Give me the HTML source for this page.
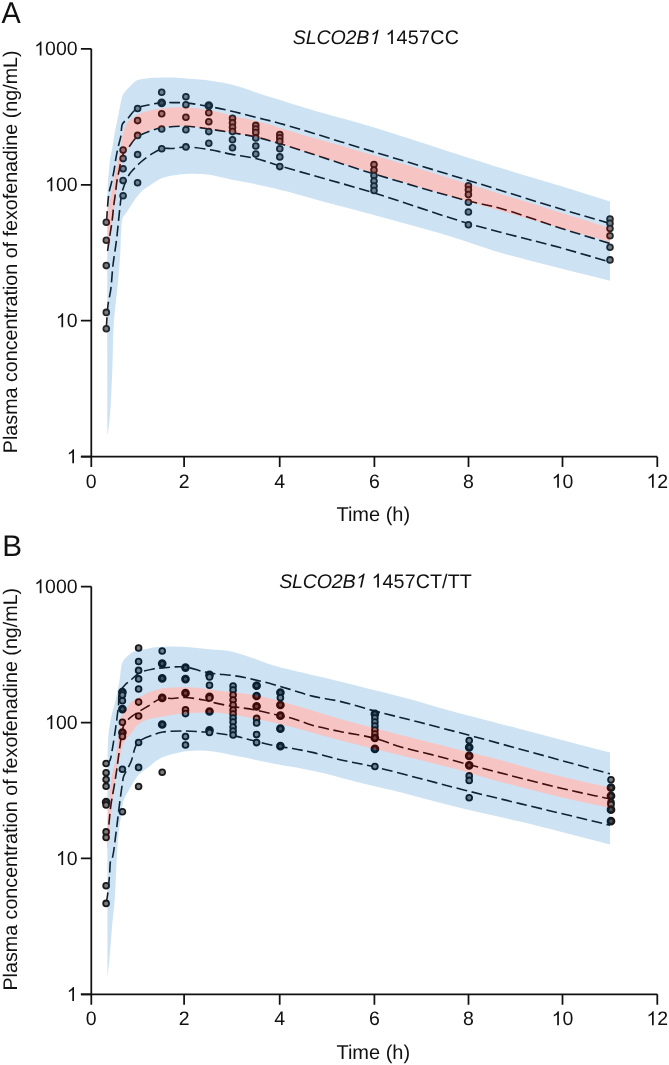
<!DOCTYPE html>
<html><head><meta charset="utf-8"><style>
html,body{margin:0;padding:0;background:#fff;width:669px;height:1065px;overflow:hidden}
svg{display:block;will-change:transform}
text{fill:#111;text-rendering:geometricPrecision}
.one{fill:transparent}
</style></head><body>
<svg width="669" height="1065" viewBox="0 0 669 1065" font-family="'Liberation Sans', sans-serif">
<path d="M107.40 434.00C107.37 416.00 107.32 399.76 107.30 380.00C107.28 355.95 107.30 325.78 107.30 300.00C107.30 275.89 107.25 249.65 107.30 230.00C107.34 215.72 107.32 201.85 107.50 193.00C107.60 188.04 107.65 185.24 107.90 181.40C108.15 177.60 108.63 173.86 109.00 170.10C109.37 166.36 109.54 162.63 110.10 158.90C110.67 155.13 111.73 151.38 112.40 147.60C113.06 143.84 113.45 140.05 114.10 136.30C114.75 132.55 115.55 128.84 116.30 125.10C117.05 121.34 117.85 117.57 118.60 113.80C119.35 110.03 120.05 105.81 120.80 102.50C121.39 99.88 121.72 97.52 122.60 95.50C123.36 93.76 124.39 92.42 125.50 91.00C126.64 89.54 128.12 88.23 129.40 86.90C130.62 85.63 131.74 84.30 133.00 83.20C134.21 82.15 135.23 81.12 136.80 80.40C138.80 79.48 141.25 79.14 144.30 78.70C148.93 78.04 156.07 77.73 162.00 77.60C167.97 77.46 173.85 77.60 180.00 77.90C186.50 78.21 193.20 78.75 200.00 79.50C207.12 80.29 214.64 81.21 221.80 82.60C228.90 83.98 235.86 85.73 242.80 87.80C249.82 89.89 256.71 92.83 263.70 95.10C270.64 97.36 278.17 99.43 284.60 101.40C290.13 103.09 294.53 104.53 300.00 106.20C306.23 108.10 312.18 109.94 320.00 112.20C331.03 115.39 347.65 119.69 360.00 123.30C370.74 126.44 376.88 128.38 390.00 132.50C415.18 140.40 468.81 158.12 500.00 167.80C522.97 174.93 540.93 179.95 560.00 185.80C577.44 191.15 593.33 196.27 610.00 201.50L610.00 280.80C573.33 271.37 529.42 261.07 500.00 252.50C479.98 246.67 469.34 242.03 450.00 236.20C423.69 228.27 380.18 216.67 356.20 210.20C341.33 206.19 331.49 203.82 320.00 200.70C309.52 197.86 298.83 194.63 290.00 192.30C283.08 190.48 277.63 189.15 271.40 187.70C265.16 186.25 259.09 184.91 252.60 183.60C245.68 182.20 238.26 181.06 231.10 179.60C223.90 178.13 216.49 175.77 209.50 174.80C203.05 173.90 196.96 173.57 190.70 173.70C184.43 173.83 177.41 174.54 171.90 175.60C167.44 176.46 163.74 177.33 160.00 179.00C156.24 180.69 152.61 183.58 149.40 185.70C146.66 187.51 144.07 188.95 141.90 190.90C139.88 192.72 138.31 194.79 136.70 196.90C135.08 199.02 133.75 201.24 132.20 203.60C130.49 206.21 128.59 209.41 126.90 211.90C125.48 214.00 123.77 215.11 122.80 217.60C121.41 221.18 121.52 226.63 121.10 232.00C120.57 238.76 120.67 247.18 120.20 255.00C119.71 263.16 119.06 270.46 118.20 280.00C117.05 292.82 114.68 309.98 113.70 325.00C112.72 339.98 112.92 355.00 112.30 370.00C111.68 385.00 110.98 403.20 110.00 415.00C109.36 422.69 108.53 427.67 107.80 434.00Z" fill="#cde2f2"/>
<path d="M107.40 251.00C107.43 244.67 107.39 238.16 107.50 232.00C107.60 226.18 107.67 220.17 108.00 215.00C108.28 210.65 108.53 206.82 109.20 203.00C109.83 199.41 111.09 196.23 111.80 192.70C112.54 189.04 112.84 185.16 113.50 181.40C114.17 177.62 114.95 173.85 115.80 170.10C116.65 166.35 117.77 162.65 118.60 158.90C119.43 155.15 120.15 151.37 120.80 147.60C121.45 143.84 121.66 140.03 122.50 136.30C123.35 132.53 124.44 127.92 125.90 125.10C126.93 123.11 128.15 121.83 129.50 120.50C130.80 119.21 132.32 118.26 133.80 117.20C135.31 116.12 136.41 115.07 138.50 114.10C141.89 112.53 148.21 110.89 152.80 109.90C156.94 109.00 160.23 108.61 164.80 108.20C170.84 107.66 178.70 107.12 185.90 107.40C193.49 107.69 201.63 108.72 209.20 110.10C216.56 111.44 223.24 113.76 230.70 115.50C238.73 117.37 248.63 119.22 255.80 120.90C261.22 122.17 265.71 123.21 270.00 124.50C273.65 125.60 274.84 126.35 280.00 128.00C296.96 133.44 353.37 149.13 390.00 160.10C426.71 171.09 468.85 184.29 500.00 193.90C523.01 201.00 540.91 206.58 560.00 212.50C577.43 217.90 593.33 222.83 610.00 228.00L610.00 242.10C573.33 231.63 536.64 221.37 500.00 210.70C463.30 200.01 426.63 189.15 390.00 178.00C353.30 166.82 296.98 149.07 280.00 143.70C274.87 142.08 273.64 141.53 270.00 140.50C265.70 139.28 261.22 138.15 255.80 137.00C248.64 135.48 238.75 133.88 230.70 132.50C223.26 131.23 216.52 130.02 209.20 129.00C201.60 127.94 193.49 126.67 185.90 126.30C178.70 125.95 170.82 126.05 164.80 126.70C160.21 127.20 156.65 127.98 152.80 129.10C149.06 130.19 144.58 131.80 142.00 133.30C140.35 134.26 139.60 135.20 138.30 136.30C136.79 137.57 135.02 138.81 133.50 140.50C131.73 142.47 130.11 145.05 128.50 147.60C126.74 150.38 124.74 153.19 123.40 156.60C121.85 160.55 121.20 165.80 120.20 170.10C119.28 174.03 118.28 177.62 117.60 181.40C116.92 185.15 116.62 188.85 116.10 192.70C115.56 196.71 114.98 200.63 114.40 205.00C113.74 209.98 113.15 215.76 112.40 221.00C111.68 226.09 110.77 231.00 110.00 236.00C109.23 241.00 108.53 246.00 107.80 251.00Z" fill="#f7c4c4"/>
<path style="mix-blend-mode:luminosity" d="M106.60 222.00C106.93 216.67 107.17 211.08 107.60 206.00C107.99 201.36 108.26 196.93 109.00 192.70C109.69 188.75 110.95 185.18 111.80 181.40C112.65 177.64 113.43 173.87 114.10 170.10C114.76 166.37 115.15 162.63 115.80 158.90C116.45 155.13 117.17 151.36 118.00 147.60C118.84 143.82 120.06 140.17 120.80 136.30C121.57 132.28 121.04 126.85 122.50 123.90C123.54 121.80 125.22 121.26 127.00 119.40C129.74 116.53 133.17 110.67 137.20 108.20C141.03 105.86 146.15 105.55 150.40 104.60C154.29 103.73 158.01 102.92 161.70 102.60C165.20 102.29 168.31 102.56 172.00 102.60C176.29 102.65 180.69 102.44 185.90 102.90C192.69 103.49 201.61 105.12 209.20 106.50C216.53 107.83 223.27 109.29 230.70 111.00C238.76 112.85 247.51 115.21 255.80 117.30C263.94 119.35 269.34 120.44 280.00 123.40C301.17 129.28 342.80 142.50 374.20 152.00C405.60 161.50 437.24 170.87 468.40 180.40C499.17 189.81 534.03 200.96 560.00 208.80C579.15 214.58 593.33 218.60 610.00 223.50" fill="none" stroke="#1e1e1e" stroke-width="1.6" stroke-dasharray="10.8 4.6"/>
<path style="mix-blend-mode:luminosity" d="M107.60 251.00C108.33 246.00 109.05 241.00 109.80 236.00C110.55 231.00 111.44 226.09 112.10 221.00C112.78 215.76 113.19 209.95 113.80 205.00C114.33 200.71 114.98 196.97 115.50 193.00C116.01 189.10 116.28 185.23 116.90 181.40C117.52 177.60 118.45 173.86 119.20 170.10C119.95 166.36 120.43 162.13 121.40 158.90C122.18 156.31 122.90 154.15 124.20 152.10C125.52 150.01 127.69 148.48 129.30 146.50C130.96 144.46 132.36 141.79 134.00 140.00C135.38 138.50 136.39 137.51 138.30 136.30C141.22 134.45 146.31 132.33 150.40 130.90C154.35 129.52 157.69 128.55 162.40 127.80C168.89 126.76 178.09 126.10 185.90 126.30C193.69 126.50 201.60 127.94 209.20 129.00C216.52 130.02 223.26 131.23 230.70 132.50C238.75 133.88 247.55 135.12 255.80 137.00C263.98 138.86 269.34 140.51 280.00 143.70C301.17 150.03 342.72 164.43 374.20 174.00C405.52 183.52 445.31 195.06 468.40 201.00C481.68 204.41 487.88 204.83 500.00 208.20C516.92 212.91 540.88 221.88 560.00 228.00C577.40 233.57 593.33 238.33 610.00 243.50" fill="none" stroke="#1e1e1e" stroke-width="1.6" stroke-dasharray="10.8 4.6"/>
<path style="mix-blend-mode:luminosity" d="M106.30 328.00C106.87 320.33 107.14 311.83 108.00 305.00C108.70 299.45 109.93 295.65 110.70 290.00C111.68 282.74 112.04 273.32 113.00 265.00C113.97 256.66 115.39 249.04 116.50 240.00C117.81 229.32 119.09 213.83 120.20 205.00C120.88 199.61 120.88 196.55 122.10 192.00C123.54 186.63 126.50 179.08 128.90 175.00C130.45 172.37 131.88 171.11 133.70 169.10C135.80 166.79 138.25 164.29 140.90 162.00C143.77 159.51 147.01 156.98 150.40 154.80C153.92 152.53 157.90 149.70 161.70 148.70C165.11 147.80 168.32 148.75 172.00 148.50C176.29 148.21 180.67 146.90 185.90 146.90C192.67 146.90 201.62 148.37 209.20 149.60C216.54 150.79 223.24 152.67 230.70 154.10C238.73 155.64 247.57 156.51 255.80 158.50C264.00 160.48 269.27 162.80 280.00 166.00C301.10 172.29 342.88 183.44 374.20 193.00C405.68 202.61 437.09 214.32 468.40 223.50C499.02 232.48 534.09 240.46 560.00 247.60C579.21 252.89 593.33 257.20 610.00 262.00" fill="none" stroke="#1e1e1e" stroke-width="1.6" stroke-dasharray="10.8 4.6"/>
<g style="mix-blend-mode:luminosity" stroke="#262626" stroke-width="1.8"><circle cx="106.3" cy="222.3" r="2.9" fill="#7c7c7c"/><circle cx="106.3" cy="240.2" r="2.9" fill="#7c7c7c"/><circle cx="106.3" cy="265.6" r="2.9" fill="#7c7c7c"/><circle cx="106.3" cy="312.4" r="2.9" fill="#7c7c7c"/><circle cx="106.3" cy="328.7" r="2.9" fill="#7c7c7c"/><circle cx="123.1" cy="150.1" r="2.9" fill="#7c7c7c"/><circle cx="123.1" cy="158.6" r="2.9" fill="#7c7c7c"/><circle cx="123.1" cy="168.7" r="2.9" fill="#7c7c7c"/><circle cx="123.1" cy="180.6" r="2.9" fill="#7c7c7c"/><circle cx="123.1" cy="195.8" r="2.9" fill="#7c7c7c"/><circle cx="137.6" cy="108.5" r="2.9" fill="#7c7c7c"/><circle cx="137.6" cy="120.6" r="2.9" fill="#7c7c7c"/><circle cx="137.6" cy="135.4" r="2.9" fill="#7c7c7c"/><circle cx="137.6" cy="154.5" r="2.9" fill="#7c7c7c"/><circle cx="137.6" cy="182.8" r="2.9" fill="#7c7c7c"/><circle cx="161.7" cy="92.2" r="2.9" fill="#7c7c7c"/><circle cx="161.7" cy="102.9" r="3.0" fill="#505050" stroke-width="2.7"/><circle cx="161.7" cy="113.7" r="2.9" fill="#7c7c7c"/><circle cx="161.7" cy="129" r="2.9" fill="#7c7c7c"/><circle cx="161.7" cy="148.7" r="2.9" fill="#7c7c7c"/><circle cx="185.9" cy="96.7" r="2.9" fill="#7c7c7c"/><circle cx="185.9" cy="104.7" r="2.9" fill="#7c7c7c"/><circle cx="185.9" cy="117.3" r="2.9" fill="#7c7c7c"/><circle cx="185.9" cy="129.8" r="2.9" fill="#7c7c7c"/><circle cx="185.9" cy="146.9" r="2.9" fill="#7c7c7c"/><circle cx="208.8" cy="105.6" r="3.0" fill="#505050" stroke-width="2.7"/><circle cx="208.8" cy="112.8" r="2.9" fill="#7c7c7c"/><circle cx="208.8" cy="121.8" r="2.9" fill="#7c7c7c"/><circle cx="208.8" cy="131.6" r="2.9" fill="#7c7c7c"/><circle cx="208.8" cy="143.3" r="2.9" fill="#7c7c7c"/><circle cx="232.5" cy="118.2" r="2.9" fill="#7c7c7c"/><circle cx="232.5" cy="122.7" r="2.9" fill="#7c7c7c"/><circle cx="232.5" cy="127.2" r="2.9" fill="#7c7c7c"/><circle cx="232.5" cy="131.6" r="2.9" fill="#7c7c7c"/><circle cx="232.5" cy="139.7" r="2.9" fill="#7c7c7c"/><circle cx="232.5" cy="147.8" r="2.9" fill="#7c7c7c"/><circle cx="255.8" cy="125.4" r="2.9" fill="#7c7c7c"/><circle cx="255.8" cy="129" r="2.9" fill="#7c7c7c"/><circle cx="255.8" cy="132.5" r="2.9" fill="#7c7c7c"/><circle cx="255.8" cy="137.9" r="2.9" fill="#7c7c7c"/><circle cx="255.8" cy="146" r="2.9" fill="#7c7c7c"/><circle cx="255.8" cy="154.1" r="2.9" fill="#7c7c7c"/><circle cx="279.8" cy="134.5" r="2.9" fill="#7c7c7c"/><circle cx="279.8" cy="137.8" r="2.9" fill="#7c7c7c"/><circle cx="279.8" cy="141.3" r="2.9" fill="#7c7c7c"/><circle cx="279.8" cy="148.8" r="2.9" fill="#7c7c7c"/><circle cx="279.8" cy="156.9" r="2.9" fill="#7c7c7c"/><circle cx="279.8" cy="166.6" r="2.9" fill="#7c7c7c"/><circle cx="374" cy="164.5" r="2.9" fill="#7c7c7c"/><circle cx="374" cy="170" r="2.9" fill="#7c7c7c"/><circle cx="374" cy="175.5" r="2.9" fill="#7c7c7c"/><circle cx="374" cy="181" r="2.9" fill="#7c7c7c"/><circle cx="374" cy="186" r="2.9" fill="#7c7c7c"/><circle cx="374" cy="190.5" r="2.9" fill="#7c7c7c"/><circle cx="468.4" cy="185.8" r="2.9" fill="#7c7c7c"/><circle cx="468.4" cy="189.7" r="2.9" fill="#7c7c7c"/><circle cx="468.4" cy="194.5" r="2.9" fill="#7c7c7c"/><circle cx="468.4" cy="202.3" r="2.9" fill="#7c7c7c"/><circle cx="468.4" cy="212" r="2.9" fill="#7c7c7c"/><circle cx="468.4" cy="224.7" r="2.9" fill="#7c7c7c"/><circle cx="610" cy="219" r="2.9" fill="#7c7c7c"/><circle cx="610" cy="223.2" r="2.9" fill="#7c7c7c"/><circle cx="610" cy="228.5" r="2.9" fill="#7c7c7c"/><circle cx="610" cy="235.8" r="2.9" fill="#7c7c7c"/><circle cx="610" cy="247.3" r="2.9" fill="#7c7c7c"/><circle cx="610" cy="259.9" r="2.9" fill="#7c7c7c"/></g>
<path d="M107.50 976.00C107.47 950.67 107.42 927.07 107.40 900.00C107.38 868.95 107.36 823.59 107.40 800.00C107.42 787.08 107.36 780.28 107.50 770.00C107.65 759.12 107.45 745.96 108.30 736.40C108.94 729.21 109.94 723.84 111.20 717.60C112.47 711.30 114.50 705.08 115.90 698.80C117.30 692.55 118.49 686.18 119.60 680.00C120.68 674.02 120.64 666.48 122.50 662.30C123.72 659.56 125.44 658.09 127.30 656.30C129.22 654.45 131.19 652.58 133.90 651.40C137.27 649.93 142.85 649.84 146.40 649.10C149.05 648.55 150.40 647.91 153.30 647.50C158.11 646.82 166.22 646.50 172.70 646.50C179.19 646.50 185.72 646.98 192.20 647.50C198.68 648.02 205.42 649.04 211.60 649.60C217.24 650.11 221.93 649.75 227.80 650.80C235.08 652.10 243.84 655.16 251.80 657.70C259.81 660.26 267.68 663.69 275.70 666.10C283.61 668.48 290.58 669.92 299.60 672.10C311.30 674.93 326.94 678.34 340.00 681.50C352.33 684.48 363.32 687.30 375.90 690.50C389.85 694.05 408.19 698.60 420.00 701.90C427.99 704.13 431.08 705.39 440.00 707.90C457.75 712.89 492.55 721.70 520.00 728.90C549.12 736.54 580.00 744.63 610.00 752.50L610.00 844.40C580.00 836.80 546.38 827.98 520.00 821.60C499.39 816.62 482.22 813.12 464.80 808.90C449.06 805.09 431.70 800.56 420.00 797.50C412.45 795.52 408.80 794.37 401.40 792.50C390.55 789.76 374.54 786.32 361.10 783.00C347.57 779.66 331.77 775.14 320.50 772.50C312.54 770.64 306.84 769.50 300.00 768.20C293.20 766.90 286.66 766.01 279.60 764.70C271.94 763.27 263.67 761.50 255.70 759.90C247.73 758.30 239.26 756.57 231.80 755.10C225.24 753.80 219.29 752.25 213.30 751.50C207.75 750.81 202.63 750.48 197.10 750.60C191.28 750.73 184.97 751.32 179.20 752.40C173.62 753.45 167.20 755.12 163.00 756.90C160.09 758.13 158.18 759.47 156.00 761.00C153.86 762.51 152.12 764.34 150.00 766.00C147.73 767.78 144.97 769.55 142.80 771.30C140.89 772.84 139.17 774.07 137.60 775.90C135.86 777.93 134.51 780.63 133.00 783.10C131.44 785.66 129.86 788.44 128.40 791.00C127.03 793.40 125.49 795.61 124.50 798.00C123.55 800.28 123.03 802.44 122.50 805.00C121.88 808.02 121.72 811.22 121.20 815.00C120.52 819.94 119.40 825.69 118.70 832.10C117.81 840.25 117.32 849.89 116.70 860.00C115.96 872.02 115.58 887.68 114.70 899.50C113.98 909.16 112.87 917.04 112.10 925.80C111.33 934.54 110.85 943.46 110.10 952.00C109.38 960.18 108.50 968.00 107.70 976.00Z" fill="#cde2f2"/>
<path d="M107.30 848.00C107.40 840.33 107.31 832.90 107.60 825.00C107.91 816.60 108.39 807.69 109.20 799.00C110.02 790.22 111.07 779.75 112.50 772.60C113.50 767.59 115.34 763.90 116.00 760.00C116.56 756.72 116.30 754.02 116.60 750.80C116.94 747.22 117.48 743.26 118.00 739.50C118.52 735.73 119.23 731.96 119.70 728.20C120.16 724.46 119.77 719.51 120.80 717.00C121.42 715.48 122.43 715.19 123.40 713.80C124.98 711.53 127.00 706.83 129.00 704.40C130.55 702.51 132.34 701.14 133.90 700.00C135.14 699.09 135.93 698.73 137.50 697.90C140.29 696.42 145.23 693.78 149.40 692.20C153.72 690.56 158.01 689.13 163.00 688.30C168.84 687.32 175.92 687.30 182.40 687.30C188.89 687.30 196.06 687.73 201.90 688.30C206.71 688.77 209.47 689.45 215.00 690.20C224.52 691.49 241.01 692.69 253.90 695.10C266.92 697.54 279.17 701.09 292.70 704.80C307.73 708.92 320.57 713.50 340.00 718.90C370.79 727.46 433.32 743.16 460.00 749.90C473.32 753.26 477.93 754.17 490.00 757.30C508.49 762.09 538.57 770.99 560.00 776.30C578.01 780.76 593.33 783.77 610.00 787.50L610.00 808.00C593.33 804.33 578.02 801.30 560.00 797.00C538.58 791.89 508.43 784.07 490.00 779.00C477.88 775.66 473.38 773.83 460.00 770.20C433.38 762.97 370.82 748.29 340.00 740.20C320.59 735.11 307.73 730.97 292.70 727.20C279.17 723.81 266.89 720.84 253.90 718.40C240.99 715.98 224.54 713.31 215.00 712.60C209.49 712.19 206.70 712.48 201.90 712.60C196.04 712.75 188.88 712.95 182.40 713.60C175.91 714.25 169.06 715.45 163.00 716.50C157.61 717.43 152.17 718.01 147.80 719.50C144.20 720.73 141.06 722.04 138.40 724.20C135.73 726.37 134.12 729.57 131.80 732.50C129.21 735.77 125.33 739.50 123.60 742.90C122.24 745.57 122.10 748.23 121.40 750.80C120.73 753.25 120.17 755.17 119.50 758.00C118.55 762.01 117.41 767.00 116.40 772.60C115.05 780.09 113.59 790.22 112.50 799.00C111.42 807.69 110.70 816.60 109.90 825.00C109.14 832.90 108.50 840.33 107.80 848.00Z" fill="#f7c4c4"/>
<path style="mix-blend-mode:luminosity" d="M106.30 765.00C107.03 764.17 107.84 763.37 108.50 762.50C109.14 761.66 109.71 761.10 110.20 759.90C111.06 757.79 111.47 753.96 112.10 750.50C112.87 746.28 113.65 741.32 114.40 736.40C115.22 731.03 116.10 724.92 116.80 719.50C117.45 714.49 118.02 709.69 118.50 705.00C118.95 700.60 118.26 695.70 119.60 692.20C120.72 689.27 123.03 687.09 125.00 685.00C126.82 683.06 128.73 681.81 130.90 680.00C133.53 677.81 136.23 674.62 139.70 672.80C143.57 670.77 149.12 669.71 153.30 668.90C156.77 668.23 159.13 668.19 163.00 667.90C168.74 667.47 177.49 666.20 184.40 666.90C191.08 667.57 198.20 670.62 203.80 671.80C208.02 672.69 210.75 673.12 215.00 673.70C220.57 674.46 227.95 674.72 234.40 675.70C240.92 676.69 247.42 678.15 253.90 679.60C260.39 681.05 266.85 682.64 273.30 684.40C279.79 686.17 286.23 688.25 292.70 690.20C299.19 692.15 305.07 694.35 312.20 696.10C320.60 698.16 330.25 699.12 340.00 701.40C351.05 703.98 362.73 707.86 375.00 711.10C388.51 714.66 402.47 717.89 417.70 721.80C435.27 726.31 451.46 730.55 474.40 736.70C509.92 746.23 564.80 761.43 610.00 773.80" fill="none" stroke="#1e1e1e" stroke-width="1.6" stroke-dasharray="10.8 4.6"/>
<path style="mix-blend-mode:luminosity" d="M107.50 840.00C108.60 828.60 109.57 815.01 110.80 805.80C111.64 799.51 112.68 794.83 113.50 790.00C114.19 785.92 114.83 782.30 115.40 778.70C115.92 775.43 116.31 772.75 116.80 769.30C117.40 765.08 118.07 759.90 118.70 755.20C119.33 750.50 119.94 745.52 120.60 741.10C121.18 737.17 121.68 733.12 122.40 730.00C122.93 727.67 123.31 725.66 124.20 724.00C124.96 722.59 125.91 721.70 127.10 720.50C128.63 718.96 130.96 717.10 132.80 715.70C134.41 714.48 135.61 713.71 137.50 712.50C140.25 710.74 144.14 708.47 147.80 706.30C151.94 703.84 156.65 699.71 161.10 698.50C164.96 697.45 168.83 698.67 172.70 698.50C176.60 698.33 180.02 697.41 184.40 697.50C190.06 697.62 198.24 698.93 203.80 700.00C208.07 700.83 210.74 701.92 215.00 702.90C220.57 704.18 227.91 705.67 234.40 706.80C240.88 707.93 247.01 708.40 253.90 709.70C261.79 711.19 271.98 713.92 279.10 715.50C284.32 716.66 287.81 717.03 292.70 718.40C298.66 720.07 305.06 723.15 312.20 725.20C320.59 727.60 330.18 729.43 340.00 731.50C350.98 733.81 364.40 735.50 375.00 738.30C384.12 740.71 390.86 744.02 400.00 746.70C410.83 749.87 424.24 752.66 435.90 755.70C447.02 758.60 458.67 761.90 468.40 764.50C476.33 766.62 480.74 767.80 490.00 770.20C506.66 774.52 538.59 782.92 560.00 788.00C578.03 792.27 593.33 795.33 610.00 799.00" fill="none" stroke="#1e1e1e" stroke-width="1.6" stroke-dasharray="10.8 4.6"/>
<path style="mix-blend-mode:luminosity" d="M106.20 903.00C106.63 900.50 107.07 898.60 107.50 895.50C108.19 890.50 108.93 882.01 109.50 875.80C110.01 870.25 109.80 862.48 110.80 860.00C111.16 859.10 111.68 859.35 112.10 858.40C113.61 854.99 114.90 840.88 116.10 832.10C117.30 823.34 118.19 814.33 119.30 805.80C120.36 797.69 121.78 787.23 122.60 782.10C123.00 779.62 122.86 778.80 123.60 776.60C124.85 772.88 128.55 767.52 130.80 762.30C133.37 756.33 133.81 747.21 137.90 742.60C141.61 738.42 148.69 736.73 153.30 734.90C156.84 733.50 159.09 732.67 163.00 732.00C168.69 731.03 177.44 730.98 184.40 731.00C191.03 731.02 198.22 731.61 203.80 732.00C208.05 732.30 210.77 732.49 215.00 733.00C220.59 733.67 227.96 734.61 234.40 735.90C240.92 737.20 246.98 739.13 253.90 740.80C261.75 742.69 271.96 745.28 279.10 746.60C284.30 747.56 287.77 747.66 292.70 748.50C298.63 749.51 305.15 750.77 312.20 752.40C320.67 754.36 330.20 757.39 340.00 759.70C350.85 762.25 362.24 764.06 374.50 766.90C388.65 770.18 404.90 774.60 420.00 778.50C435.00 782.37 449.07 786.24 464.80 790.20C482.22 794.59 499.36 798.62 520.00 803.60C546.35 809.96 580.00 818.00 610.00 825.20" fill="none" stroke="#1e1e1e" stroke-width="1.6" stroke-dasharray="10.8 4.6"/>
<g style="mix-blend-mode:luminosity" stroke="#1a1a1a" stroke-width="1.8"><circle cx="106.1" cy="763.5" r="2.9" fill="#7c7c7c"/><circle cx="106.1" cy="772.8" r="2.9" fill="#7c7c7c"/><circle cx="106.1" cy="779.5" r="2.9" fill="#7c7c7c"/><circle cx="106.1" cy="786.3" r="2.9" fill="#7c7c7c"/><circle cx="106.1" cy="802" r="3.0" fill="#505050" stroke-width="2.7"/><circle cx="106.1" cy="805" r="2.9" fill="#7c7c7c"/><circle cx="106.1" cy="831.9" r="2.9" fill="#7c7c7c"/><circle cx="106.1" cy="837.4" r="2.9" fill="#7c7c7c"/><circle cx="106.1" cy="885.7" r="2.9" fill="#7c7c7c"/><circle cx="106.1" cy="903.4" r="2.9" fill="#7c7c7c"/><circle cx="122.4" cy="692.2" r="3.0" fill="#505050" stroke-width="2.7"/><circle cx="122.4" cy="695" r="2.9" fill="#7c7c7c"/><circle cx="122.4" cy="700.7" r="2.9" fill="#7c7c7c"/><circle cx="122.4" cy="709.1" r="3.0" fill="#505050" stroke-width="2.7"/><circle cx="122.4" cy="722.3" r="2.9" fill="#7c7c7c"/><circle cx="122.4" cy="732.6" r="3.0" fill="#505050" stroke-width="2.7"/><circle cx="122.4" cy="736.4" r="2.9" fill="#7c7c7c"/><circle cx="122.4" cy="769.3" r="2.9" fill="#7c7c7c"/><circle cx="122.4" cy="811.7" r="2.9" fill="#7c7c7c"/><circle cx="138.6" cy="648" r="2.9" fill="#7c7c7c"/><circle cx="138.6" cy="661.5" r="2.9" fill="#7c7c7c"/><circle cx="138.6" cy="670.4" r="2.9" fill="#7c7c7c"/><circle cx="138.6" cy="678.9" r="2.9" fill="#7c7c7c"/><circle cx="138.6" cy="689" r="2.9" fill="#7c7c7c"/><circle cx="138.6" cy="702.1" r="2.9" fill="#7c7c7c"/><circle cx="138.6" cy="716" r="2.9" fill="#7c7c7c"/><circle cx="138.6" cy="742.5" r="2.9" fill="#7c7c7c"/><circle cx="138.6" cy="767.4" r="2.9" fill="#7c7c7c"/><circle cx="138.6" cy="786.5" r="2.9" fill="#7c7c7c"/><circle cx="162.2" cy="651" r="2.9" fill="#7c7c7c"/><circle cx="162.2" cy="663.6" r="3.0" fill="#505050" stroke-width="2.7"/><circle cx="162.2" cy="678.4" r="3.0" fill="#505050" stroke-width="2.7"/><circle cx="162.2" cy="697.9" r="3.0" fill="#505050" stroke-width="2.7"/><circle cx="162.2" cy="724.5" r="3.0" fill="#505050" stroke-width="2.7"/><circle cx="162.2" cy="772.2" r="2.9" fill="#7c7c7c"/><circle cx="185.5" cy="667.6" r="3.0" fill="#505050" stroke-width="2.7"/><circle cx="185.5" cy="679.1" r="3.0" fill="#505050" stroke-width="2.7"/><circle cx="185.5" cy="693.2" r="3.0" fill="#505050" stroke-width="2.7"/><circle cx="185.5" cy="709.9" r="2.9" fill="#7c7c7c"/><circle cx="185.5" cy="713.6" r="2.9" fill="#7c7c7c"/><circle cx="185.5" cy="736.6" r="2.9" fill="#7c7c7c"/><circle cx="185.5" cy="745" r="2.9" fill="#7c7c7c"/><circle cx="209.5" cy="674.9" r="3.0" fill="#505050" stroke-width="2.7"/><circle cx="209.5" cy="677" r="2.9" fill="#7c7c7c"/><circle cx="209.5" cy="685.3" r="2.9" fill="#7c7c7c"/><circle cx="209.5" cy="696.9" r="3.0" fill="#505050" stroke-width="2.7"/><circle cx="209.5" cy="698" r="2.9" fill="#7c7c7c"/><circle cx="209.5" cy="711.5" r="3.0" fill="#505050" stroke-width="2.7"/><circle cx="209.5" cy="730.3" r="3.0" fill="#505050" stroke-width="2.7"/><circle cx="209.5" cy="732.4" r="2.9" fill="#7c7c7c"/><circle cx="233.1" cy="686" r="2.9" fill="#7c7c7c"/><circle cx="233.1" cy="690" r="2.9" fill="#7c7c7c"/><circle cx="233.1" cy="695" r="2.9" fill="#7c7c7c"/><circle cx="233.1" cy="700" r="2.9" fill="#7c7c7c"/><circle cx="233.1" cy="705" r="2.9" fill="#7c7c7c"/><circle cx="233.1" cy="710" r="2.9" fill="#7c7c7c"/><circle cx="233.1" cy="714" r="2.9" fill="#7c7c7c"/><circle cx="233.1" cy="718" r="2.9" fill="#7c7c7c"/><circle cx="233.1" cy="722" r="2.9" fill="#7c7c7c"/><circle cx="233.1" cy="727" r="2.9" fill="#7c7c7c"/><circle cx="233.1" cy="731" r="2.9" fill="#7c7c7c"/><circle cx="233.1" cy="735" r="2.9" fill="#7c7c7c"/><circle cx="256.6" cy="685.7" r="3.0" fill="#505050" stroke-width="2.7"/><circle cx="256.6" cy="696" r="3.0" fill="#505050" stroke-width="2.7"/><circle cx="256.6" cy="706.3" r="3.0" fill="#505050" stroke-width="2.7"/><circle cx="256.6" cy="718.4" r="2.9" fill="#7c7c7c"/><circle cx="256.6" cy="722.9" r="2.9" fill="#7c7c7c"/><circle cx="256.6" cy="734.6" r="2.9" fill="#7c7c7c"/><circle cx="256.6" cy="742.6" r="2.9" fill="#7c7c7c"/><circle cx="280.4" cy="692.5" r="3.0" fill="#505050" stroke-width="2.7"/><circle cx="280.4" cy="697.8" r="2.9" fill="#7c7c7c"/><circle cx="280.4" cy="705" r="3.0" fill="#505050" stroke-width="2.7"/><circle cx="280.4" cy="715.7" r="3.0" fill="#505050" stroke-width="2.7"/><circle cx="280.4" cy="728.7" r="3.0" fill="#505050" stroke-width="2.7"/><circle cx="280.4" cy="746.2" r="3.0" fill="#505050" stroke-width="2.7"/><circle cx="374.9" cy="713.9" r="3.0" fill="#505050" stroke-width="2.7"/><circle cx="374.9" cy="718" r="2.9" fill="#7c7c7c"/><circle cx="374.9" cy="722" r="2.9" fill="#7c7c7c"/><circle cx="374.9" cy="726" r="2.9" fill="#7c7c7c"/><circle cx="374.9" cy="730" r="2.9" fill="#7c7c7c"/><circle cx="374.9" cy="734" r="2.9" fill="#7c7c7c"/><circle cx="374.9" cy="738" r="3.0" fill="#505050" stroke-width="2.7"/><circle cx="374.9" cy="748.9" r="3.0" fill="#505050" stroke-width="2.7"/><circle cx="374.9" cy="766.5" r="2.9" fill="#7c7c7c"/><circle cx="469.2" cy="740.5" r="2.9" fill="#7c7c7c"/><circle cx="469.2" cy="747.3" r="3.0" fill="#505050" stroke-width="2.7"/><circle cx="469.2" cy="755.9" r="3.0" fill="#505050" stroke-width="2.7"/><circle cx="469.2" cy="765.3" r="3.0" fill="#505050" stroke-width="2.7"/><circle cx="469.2" cy="775.9" r="2.9" fill="#7c7c7c"/><circle cx="469.2" cy="780.4" r="2.9" fill="#7c7c7c"/><circle cx="469.2" cy="797.7" r="2.9" fill="#7c7c7c"/><circle cx="611" cy="779.8" r="2.9" fill="#7c7c7c"/><circle cx="611" cy="787.7" r="3.0" fill="#505050" stroke-width="2.7"/><circle cx="611" cy="795.9" r="3.0" fill="#505050" stroke-width="2.7"/><circle cx="611" cy="802.4" r="2.9" fill="#7c7c7c"/><circle cx="611" cy="804.4" r="2.9" fill="#7c7c7c"/><circle cx="611" cy="809.7" r="3.0" fill="#505050" stroke-width="2.7"/><circle cx="611" cy="821.2" r="3.0" fill="#505050" stroke-width="2.7"/></g>
<path d="M91.3 48.8V467.0M80.89999999999999 456.7H657.3" stroke="#111" stroke-width="1.75" fill="none"/>
<path d="M80.89999999999999 48.80H91.3 M80.89999999999999 184.77H91.3 M80.89999999999999 320.73H91.3 M80.89999999999999 456.70H91.3 M184.1 456.7V467.0 M279.7 456.7V467.0 M374.4 456.7V467.0 M468.5 456.7V467.0 M562.5 456.7V467.0 M657.3 456.7V467.0" stroke="#111" stroke-width="1.75" fill="none" stroke-linecap="butt"/>
<text x="77.6" y="55.40" font-size="19.5" text-anchor="end"><tspan class="one">1</tspan>000</text>
<text x="77.6" y="191.37" font-size="19.5" text-anchor="end"><tspan class="one">1</tspan>00</text>
<text x="77.6" y="327.33" font-size="19.5" text-anchor="end"><tspan class="one">1</tspan>0</text>
<text x="77.6" y="463.30" font-size="19.5" text-anchor="end"><tspan class="one">1</tspan></text>
<text x="91.3" y="487.70" font-size="19.5" text-anchor="middle">0</text>
<text x="184.1" y="487.70" font-size="19.5" text-anchor="middle">2</text>
<text x="279.7" y="487.70" font-size="19.5" text-anchor="middle">4</text>
<text x="374.4" y="487.70" font-size="19.5" text-anchor="middle">6</text>
<text x="468.5" y="487.70" font-size="19.5" text-anchor="middle">8</text>
<text x="562.5" y="487.70" font-size="19.5" text-anchor="middle"><tspan class="one">1</tspan>0</text>
<text x="657.3" y="487.70" font-size="19.5" text-anchor="middle"><tspan class="one">1</tspan>2</text>
<path d="M91.3 586.6V1004.65M80.89999999999999 994.35H657.3" stroke="#111" stroke-width="1.75" fill="none"/>
<path d="M80.89999999999999 586.60H91.3 M80.89999999999999 722.52H91.3 M80.89999999999999 858.43H91.3 M80.89999999999999 994.35H91.3 M184.1 994.35V1004.65 M279.7 994.35V1004.65 M374.4 994.35V1004.65 M468.5 994.35V1004.65 M562.5 994.35V1004.65 M657.3 994.35V1004.65" stroke="#111" stroke-width="1.75" fill="none" stroke-linecap="butt"/>
<text x="77.6" y="593.20" font-size="19.5" text-anchor="end"><tspan class="one">1</tspan>000</text>
<text x="77.6" y="729.12" font-size="19.5" text-anchor="end"><tspan class="one">1</tspan>00</text>
<text x="77.6" y="865.03" font-size="19.5" text-anchor="end"><tspan class="one">1</tspan>0</text>
<text x="77.6" y="1000.95" font-size="19.5" text-anchor="end"><tspan class="one">1</tspan></text>
<text x="91.3" y="1025.35" font-size="19.5" text-anchor="middle">0</text>
<text x="184.1" y="1025.35" font-size="19.5" text-anchor="middle">2</text>
<text x="279.7" y="1025.35" font-size="19.5" text-anchor="middle">4</text>
<text x="374.4" y="1025.35" font-size="19.5" text-anchor="middle">6</text>
<text x="468.5" y="1025.35" font-size="19.5" text-anchor="middle">8</text>
<text x="562.5" y="1025.35" font-size="19.5" text-anchor="middle"><tspan class="one">1</tspan>0</text>
<text x="657.3" y="1025.35" font-size="19.5" text-anchor="middle"><tspan class="one">1</tspan>2</text>
<text transform="translate(1.45 22.6) scale(0.962 1)" font-size="30.0" text-rendering="geometricPrecision">A</text>
<text x="2.2" y="556.4" font-size="29.7">B</text>
<text x="292.8" y="44" font-size="19.7"><tspan font-style="italic" letter-spacing="-0.2">SLCO2B<tspan class="one i">1</tspan></tspan> <tspan class="one">1</tspan><tspan letter-spacing="0.3">457CC</tspan></text>
<text x="279.2" y="587.6" font-size="19.7"><tspan font-style="italic" letter-spacing="-0.25">SLCO2B<tspan class="one i">1</tspan></tspan> <tspan class="one">1</tspan><tspan letter-spacing="0.1">457CT/TT</tspan></text>
<text x="373.3" y="521" font-size="20" text-anchor="middle">Time (h)</text>
<text x="373.3" y="1058.6" font-size="20" text-anchor="middle">Time (h)</text>
<text transform="translate(17.0 251.8) rotate(-90)" font-size="19.7" text-anchor="middle">Plasma concentration of fexofenadine (ng/mL)</text>
<text transform="translate(17.0 789.2) rotate(-90)" font-size="19.7" text-anchor="middle">Plasma concentration of fexofenadine (ng/mL)</text>
<g fill="#111"><path transform="translate(34.19 55.40) scale(0.009521 -0.009521)" d="M763 0H583V1147C540 1106 483 1065 413 1024C343 983 280 952 223 931V1105C324 1152 412 1210 487 1277C562 1344 615 1409 646 1472H763Z"/><path transform="translate(45.04 191.37) scale(0.009521 -0.009521)" d="M763 0H583V1147C540 1106 483 1065 413 1024C343 983 280 952 223 931V1105C324 1152 412 1210 487 1277C562 1344 615 1409 646 1472H763Z"/><path transform="translate(55.88 327.33) scale(0.009521 -0.009521)" d="M763 0H583V1147C540 1106 483 1065 413 1024C343 983 280 952 223 931V1105C324 1152 412 1210 487 1277C562 1344 615 1409 646 1472H763Z"/><path transform="translate(66.74 463.30) scale(0.009521 -0.009521)" d="M763 0H583V1147C540 1106 483 1065 413 1024C343 983 280 952 223 931V1105C324 1152 412 1210 487 1277C562 1344 615 1409 646 1472H763Z"/><path transform="translate(551.64 487.70) scale(0.009521 -0.009521)" d="M763 0H583V1147C540 1106 483 1065 413 1024C343 983 280 952 223 931V1105C324 1152 412 1210 487 1277C562 1344 615 1409 646 1472H763Z"/><path transform="translate(646.44 487.70) scale(0.009521 -0.009521)" d="M763 0H583V1147C540 1106 483 1065 413 1024C343 983 280 952 223 931V1105C324 1152 412 1210 487 1277C562 1344 615 1409 646 1472H763Z"/><path transform="translate(34.19 593.20) scale(0.009521 -0.009521)" d="M763 0H583V1147C540 1106 483 1065 413 1024C343 983 280 952 223 931V1105C324 1152 412 1210 487 1277C562 1344 615 1409 646 1472H763Z"/><path transform="translate(45.04 729.12) scale(0.009521 -0.009521)" d="M763 0H583V1147C540 1106 483 1065 413 1024C343 983 280 952 223 931V1105C324 1152 412 1210 487 1277C562 1344 615 1409 646 1472H763Z"/><path transform="translate(55.88 865.03) scale(0.009521 -0.009521)" d="M763 0H583V1147C540 1106 483 1065 413 1024C343 983 280 952 223 931V1105C324 1152 412 1210 487 1277C562 1344 615 1409 646 1472H763Z"/><path transform="translate(66.74 1000.95) scale(0.009521 -0.009521)" d="M763 0H583V1147C540 1106 483 1065 413 1024C343 983 280 952 223 931V1105C324 1152 412 1210 487 1277C562 1344 615 1409 646 1472H763Z"/><path transform="translate(551.64 1025.35) scale(0.009521 -0.009521)" d="M763 0H583V1147C540 1106 483 1065 413 1024C343 983 280 952 223 931V1105C324 1152 412 1210 487 1277C562 1344 615 1409 646 1472H763Z"/><path transform="translate(646.44 1025.35) scale(0.009521 -0.009521)" d="M763 0H583V1147C540 1106 483 1065 413 1024C343 983 280 952 223 931V1105C324 1152 412 1210 487 1277C562 1344 615 1409 646 1472H763Z"/><path transform="translate(368.30 44.00) skewX(-12) scale(0.009619 -0.009619)" d="M763 0H583V1147C540 1106 483 1065 413 1024C343 983 280 952 223 931V1105C324 1152 412 1210 487 1277C562 1344 615 1409 646 1472H763Z"/><path transform="translate(385.53 44.00) scale(0.009619 -0.009619)" d="M763 0H583V1147C540 1106 483 1065 413 1024C343 983 280 952 223 931V1105C324 1152 412 1210 487 1277C562 1344 615 1409 646 1472H763Z"/><path transform="translate(354.40 587.60) skewX(-12) scale(0.009619 -0.009619)" d="M763 0H583V1147C540 1106 483 1065 413 1024C343 983 280 952 223 931V1105C324 1152 412 1210 487 1277C562 1344 615 1409 646 1472H763Z"/><path transform="translate(371.59 587.60) scale(0.009619 -0.009619)" d="M763 0H583V1147C540 1106 483 1065 413 1024C343 983 280 952 223 931V1105C324 1152 412 1210 487 1277C562 1344 615 1409 646 1472H763Z"/></g>
</svg>
</body></html>
